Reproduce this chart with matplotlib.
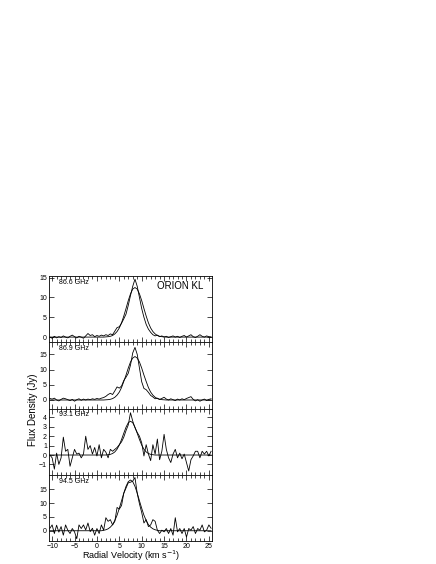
import numpy as np
import matplotlib
matplotlib.use("Agg")
import matplotlib.pyplot as plt
from matplotlib.ticker import MultipleLocator

plt.rcParams['font.family'] = ['Liberation Sans', 'DejaVu Sans']

# channel velocities (km/s), 0.5 km/s spacing
velocity = np.arange(-10.5, 25.6, 0.5)

labels = ["86.6 GHz", "86.9 GHz", "93.1 GHz", "94.5 GHz"]

spec_866 = [0.0, -0.3, 0.2, -0.2, 0.1, -0.1, 0.3, 0.0, -0.2, 0.2,
            0.5, 0.1, -0.2, 0.2, 0.0, -0.3, 0.3, 0.9, 0.4, 0.6,
            0.1, 0.4, 0.2, 0.5, 0.3, 0.6, 0.4, 0.8, 0.6, 1.5,
            2.4, 2.6, 3.5, 4.6, 5.8, 8.0, 10.5, 12.8, 14.6, 12.8,
            10.0, 7.2, 5.0, 3.2, 2.0, 1.2, 0.6, 0.3, 0.5, 0.1,
            0.3, 0.0, 0.2, -0.1, 0.1, 0.3, 0.0, 0.2, -0.1, 0.2,
            0.4, 0.0, 0.3, 0.6, 0.1, -0.1, 0.2, 0.6, 0.2, 0.0,
            0.3, 0.1, 0.0]
fit_866 = ([0.0] * 25 +
           [0.05, 0.1, 0.2, 0.4, 0.8, 1.4, 2.3, 3.6, 5.3, 7.2, 9.2, 10.9, 12.1, 12.5,
            12.1, 10.9, 9.2, 7.2, 5.3, 3.6, 2.3, 1.4, 0.8, 0.4, 0.2, 0.1, 0.05] +
           [0.0] * 21)

spec_869 = [0.5, 0.3, 0.6, 0.0, -0.3, 0.2, 0.6, 0.4, 0.1, -0.2,
            0.2, -0.4, 0.1, 0.4, -0.1, 0.3, 0.0, 0.3, 0.1, 0.4,
            0.2, 0.5, 0.3, 0.6, 0.8, 1.2, 1.8, 2.2, 1.8, 3.0,
            4.3, 3.9, 4.6, 6.4, 7.5, 8.8, 11.5, 15.5, 17.3, 15.0,
            10.5, 6.0, 3.8, 3.4, 2.5, 1.5, 1.0, 0.4, 0.6, 0.2,
            0.5, 0.9, 0.3, 0.0, 0.4, 0.1, -0.2, 0.3, 0.0, 0.4,
            0.1, 0.5, 0.8, 1.1, 0.2, -0.3, 0.1, -0.4, 0.0, 0.3,
            -0.2, 0.2, 0.4]
fit_869 = ([0.0] * 25 +
           [0.06, 0.11, 0.23, 0.46, 0.9, 1.6, 2.6, 4.1, 6.1, 8.2, 10.5, 12.5, 13.8, 14.3,
            13.8, 12.5, 10.5, 8.2, 6.1, 4.1, 2.6, 1.6, 0.9, 0.46, 0.23, 0.11, 0.06] +
           [0.0] * 21)

spec_931 = [0.0, -0.3, -1.5, 0.2, -1.0, -0.3, 1.9, 0.4, 0.6, -1.2,
            -0.3, 0.6, 0.1, 0.2, -0.3, 0.1, 2.0, 0.6, 1.0, 0.1,
            0.8, -0.1, 1.1, -0.3, 0.6, 0.3, -0.3, 0.6, 0.4, 0.6,
            0.8, 1.1, 1.4, 1.9, 2.6, 3.2, 4.5, 3.6, 2.9, 2.4,
            2.0, 1.3, -0.1, 1.1, 0.1, -0.6, 1.1, 0.1, 1.7, -0.5,
            0.4, 2.2, 0.6, -0.3, -0.8, 0.1, 0.6, -0.3, 0.2, -0.4,
            0.1, -0.8, -1.7, -0.5, -0.1, 0.4, 0.4, -0.3, 0.4, 0.1,
            0.4, -0.1, 0.4]
fit_931 = ([0.0] * 26 +
           [0.03, 0.07, 0.16, 0.33, 0.62, 1.06, 1.65, 2.32, 2.96, 3.43, 3.6,
            3.43, 2.96, 2.32, 1.65, 1.06, 0.62, 0.33, 0.16, 0.07, 0.03] +
           [0.0] * 26)

spec_945 = [0.9, 2.1, -1.0, 2.0, -0.5, 1.5, -1.6, 2.1, 0.2, -1.0,
            0.8, -0.4, -2.9, 2.1, 0.8, 2.1, 0.3, 2.8, -0.3, 0.9,
            -1.6, 0.8, -1.0, 2.1, 0.2, 4.7, 3.4, 4.0, 2.1, 3.4,
            8.4, 7.8, 9.1, 13.5, 15.4, 17.3, 17.5, 17.9, 19.2, 13.5,
            9.7, 6.6, 2.8, 4.0, 1.5, 2.1, 4.0, 3.4, 0.2, -1.0,
            0.2, -0.4, 0.8, -1.0, 0.8, -1.6, 4.7, -0.4, 0.8, -1.0,
            0.8, -2.3, 0.8, 0.2, 1.5, -1.0, 0.8, 0.2, 2.1, -0.4,
            0.2, 2.1, 0.9]
fit_945 = ([0.0] * 24 +
           [0.16, 0.35, 0.7, 1.3, 2.2, 3.7, 5.6, 8.1, 10.8, 13.6, 16.0, 17.7, 18.3,
            17.7, 16.0, 13.6, 10.8, 8.1, 5.6, 3.7, 2.2, 1.3, 0.7, 0.35, 0.16] +
           [0.0] * 24)

spectra = [spec_866, spec_869, spec_931, spec_945]
fits = [fit_866, fit_869, fit_931, fit_945]
ylims = [(-1.3, 15.4), (-2.8, 19.0), (-2.1, 4.95), (-3.7, 20.2)]
yticks = [[0, 5, 10, 15], [0, 5, 10, 15], [-1, 0, 1, 2, 3, 4], [0, 5, 10, 15]]

fig = plt.figure(figsize=(4.36, 5.64), dpi=100)
gs = fig.add_gridspec(4, 1, left=49 / 436, right=212 / 436,
                      top=1 - 276 / 564, bottom=1 - 541 / 564, hspace=0)

for i in range(4):
    ax = fig.add_subplot(gs[i])
    ax.plot(velocity, fits[i], color='black', lw=0.6)
    ax.plot(velocity, spectra[i], color='black', lw=0.6)
    ax.set_xlim(-10.7, 25.7)
    ax.set_ylim(*ylims[i])
    ax.set_yticks(yticks[i])
    ax.xaxis.set_major_locator(MultipleLocator(5))
    ax.xaxis.set_minor_locator(MultipleLocator(1))
    ax.tick_params(axis='both', which='both', direction='in', top=True, right=True,
                   labelsize=5, width=0.5, pad=1.5)
    ax.tick_params(which='major', length=3.5)
    ax.tick_params(which='minor', length=2)
    ax.tick_params(axis='y', which='minor', left=False, right=False)
    for s in ax.spines.values():
        s.set_linewidth(0.6)
    if i < 3:
        ax.tick_params(labelbottom=False)
    ax.text(0.06, 0.955, labels[i], transform=ax.transAxes, fontsize=5,
            ha='left', va='top')
    if i == 0:
        ax.text(0.945, 0.85, "ORION KL", transform=ax.transAxes, fontsize=7,
                ha='right', va='center')

fig.text(33 / 436, 1 - 410 / 564, "Flux Density (Jy)", rotation=90,
         ha='center', va='center', fontsize=7)
fig.text(131 / 436, 1 - 549 / 564, "Radial Velocity (km s$^{-1}$)",
         ha='center', va='top', fontsize=6.5)

fig.savefig("out.png", dpi=100)
